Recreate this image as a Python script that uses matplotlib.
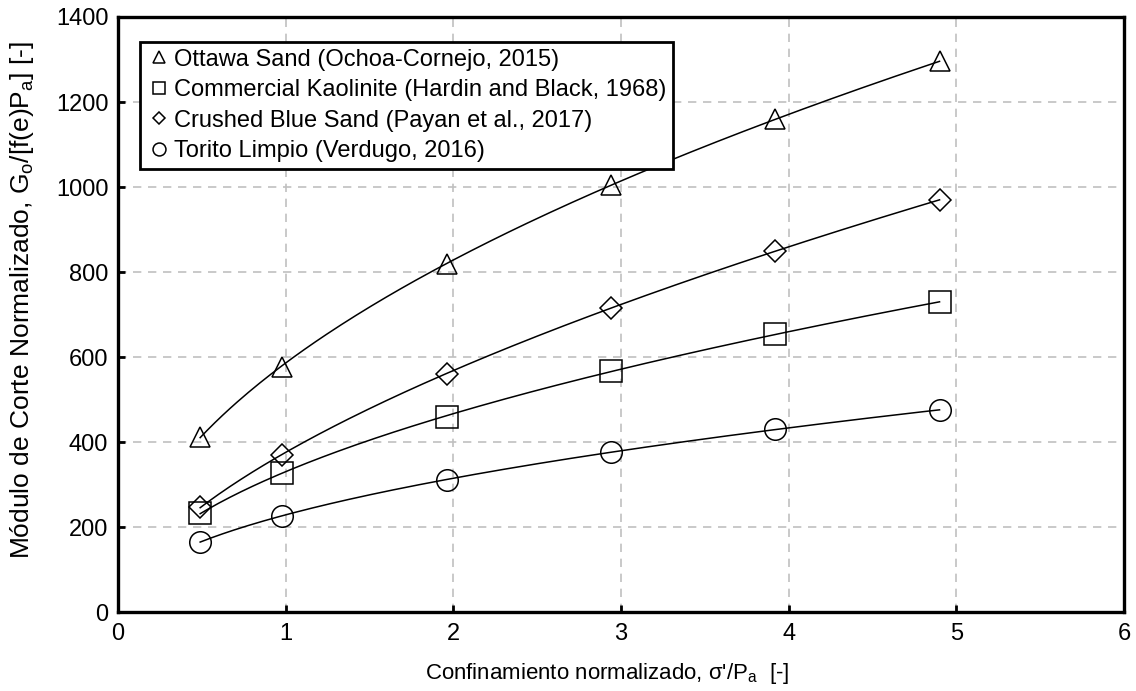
import numpy as np
import matplotlib
matplotlib.use("Agg")
from matplotlib import pyplot as plt

plt.rcParams['font.family'] = ['Liberation Sans', 'DejaVu Sans']
plt.rcParams['mathtext.fontset'] = 'custom'
plt.rcParams['mathtext.rm'] = 'Liberation Sans'
plt.rcParams['mathtext.it'] = 'Liberation Sans'

# normalised confinement sigma'/Pa
x = np.array([0.49, 0.98, 1.96, 2.94, 3.92, 4.90])

ottawa = [412, 577, 819, 1004, 1161, 1297]
kaolinite = [232, 326, 460, 568, 653, 730]
blue_sand = [246, 370, 561, 716, 849, 970]
torito = [165, 226, 311, 376, 430, 476]

labels = ['Ottawa Sand (Ochoa-Cornejo, 2015)',
          'Commercial Kaolinite (Hardin and Black, 1968)',
          'Crushed Blue Sand (Payan et al., 2017)',
          'Torito Limpio (Verdugo, 2016)']
markers = ['^', 's', 'D', 'o']
sizes = [15, 15.5, 11, 15.5]

fig = plt.figure(figsize=(11.36, 6.91), dpi=100)
ax = fig.add_axes([0.1039, 0.1143, 0.8855, 0.8611])

for y, lab, m, ms in zip([ottawa, kaolinite, blue_sand, torito], labels, markers, sizes):
    y = np.array(y, dtype=float)
    # power-law trend line  G = A * x^n  fitted on the measured points
    n, lnA = np.polyfit(np.log(x), np.log(y), 1)
    xf = np.linspace(x.min(), x.max(), 200)
    ax.plot(xf, np.exp(lnA) * xf ** n, color='black', lw=1.1, zorder=3)
    ax.plot(x, y, ls='none', marker=m, ms=ms, mfc='none', mec='black',
            mew=1.1, label=lab, zorder=4)

ax.set_xlim(0, 6)
ax.set_ylim(0, 1400)
ax.set_xticks(np.arange(0, 7, 1))
ax.set_yticks(np.arange(0, 1401, 200))
ax.grid(True, color='#c0c0c0', ls=(0, (5, 4)), lw=1.2)
ax.set_axisbelow(True)

for s in ax.spines.values():
    s.set_linewidth(2.4)
ax.tick_params(direction='in', length=5, width=2, labelsize=17, pad=8)
ax.tick_params(axis='y', pad=7)

ax.set_xlabel("Confinamiento normalizado, σ'/P$_\\mathregular{a}$  [-]", fontsize=16)
ax.xaxis.set_label_coords(0.486, -0.082)
ax.set_ylabel("Módulo de Corte Normalizado, G$_\\mathregular{o}$/[f(e)P$_\\mathregular{a}$] [-]",
              fontsize=19)
ax.yaxis.set_label_coords(-0.082, 0.525)

leg = ax.legend(loc='upper left', bbox_to_anchor=(0.022, 0.958), borderaxespad=0,
                fontsize=17, markerscale=0.6, handlelength=1.0, handletextpad=0.15,
                labelspacing=0.36, borderpad=0.28, fancybox=False,
                edgecolor='black', framealpha=1)
leg.get_frame().set_linewidth(2)

fig.savefig('out.png', dpi=100)
